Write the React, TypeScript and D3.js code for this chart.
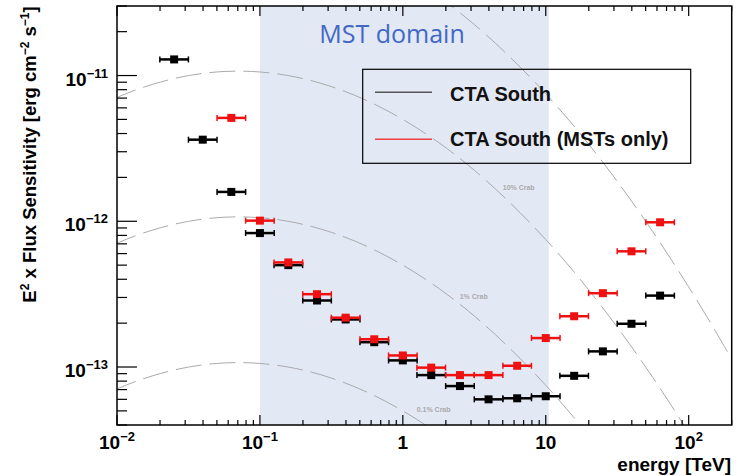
import React from "react";
import * as d3 from "d3";

// bin centres (5 bins per decade), TeV
const allEnergy = [
  0.0251, 0.0398, 0.0631, 0.1, 0.158, 0.251, 0.398, 0.631, 1, 1.58, 2.51, 3.98,
  6.31, 10, 15.8, 25.1, 39.8, 63.1,
];
// E^2 x flux sensitivity, erg cm^-2 s^-1
const southFlux = [
  1.29e-11, 3.63e-12, 1.59e-12, 8.3e-13, 5.0e-13, 2.86e-13, 2.12e-13, 1.48e-13,
  1.11e-13, 8.8e-14, 7.4e-14, 6.0e-14, 6.1e-14, 6.3e-14, 8.7e-14, 1.28e-13,
  1.98e-13, 3.09e-13,
];
const mstEnergy = allEnergy.slice(2);
const mstFlux = [
  5.12e-12, 1.01e-12, 5.22e-13, 3.16e-13, 2.18e-13, 1.55e-13, 1.2e-13, 9.9e-14,
  8.8e-14, 8.8e-14, 1.02e-13, 1.58e-13, 2.23e-13, 3.21e-13, 6.22e-13, 9.84e-13,
];

// 1% Crab reference curve
const crabEnergy = [
  0.00562, 0.01, 0.0178, 0.0316, 0.0562, 0.1, 0.178, 0.316, 0.562, 1, 1.78,
  3.16, 5.62, 10, 17.8, 31.6, 56.2, 100, 178, 316,
];
const crab1pct = [
  5.34e-13, 7.07e-13, 8.71e-13, 9.99e-13, 1.066e-12, 1.058e-12, 9.77e-13,
  8.4e-13, 6.72e-13, 5.0e-13, 3.47e-13, 2.24e-13, 1.34e-13, 7.49e-14, 3.89e-14,
  1.88e-14, 8.46e-15, 3.54e-15, 1.38e-15, 5.0e-16,
];
const crabScale = [100, 10, 1, 0.1];
const crabLabels = ["10% Crab", "1% Crab", "0.1% Crab"];
const crabLabelEnergy = [5.0, 2.5, 1.25];
const crabLabelFlux = [1.64e-12, 2.92e-13, 4.9e-14];

const xTicks = [0.01, 0.1, 1, 10, 100];
const xTickLabels = [["10", "\u22122"], ["10", "\u22121"], ["1", ""], ["10", ""], ["10", "2"]];
const yTicks = [1e-11, 1e-12, 1e-13];
const yTickLabels = ["\u221211", "\u221212", "\u221213"];
const mstDomain = [0.1, 10.5];

const W = 737;
const H = 476;
const m = { left: 117, right: 5.3, top: 6, bottom: 51 };
const font = "'Liberation Sans', Arial, Helvetica, sans-serif";
const red = "#ee1111";

export default function App() {
  const x = d3.scaleLog().domain([0.01, 200]).range([m.left, W - m.right]);
  const y = d3.scaleLog().domain([4e-14, 3e-11]).range([H - m.bottom, m.top]);
  const [x0, x1] = x.range();
  const [y0, y1] = y.range();

  const minorX: number[] = [];
  for (let d = 0.01; d < 200; d *= 10)
    for (let k = 1; k < 10; k++) if (d * k <= 200) minorX.push(d * k);
  const minorY: number[] = [];
  for (let d = 1e-14; d < 3e-11; d *= 10)
    for (let k = 1; k < 10; k++) {
      const v = d * k;
      if (v >= 4e-14 && v <= 3.01e-11) minorY.push(v);
    }
  const isMajor = (v: number) => Math.abs(Math.log10(v) - Math.round(Math.log10(v))) < 1e-6;

  const line = d3
    .line<[number, number]>()
    .x((d) => x(d[0]))
    .y((d) => y(d[1]))
    .curve(d3.curveNatural);

  const points = (energy: number[], flux: number[], color: string) =>
    energy.map((e, i) => {
      const lo = x(e / Math.pow(10, 0.1));
      const hi = x(e * Math.pow(10, 0.1));
      const cy = y(flux[i]);
      return (
        <g key={i}>
          <line x1={lo} x2={hi} y1={cy} y2={cy} stroke={color} strokeWidth={2.5} />
          <line x1={lo} x2={lo} y1={cy - 3} y2={cy + 3} stroke={color} strokeWidth={1.5} />
          <line x1={hi} x2={hi} y1={cy - 3} y2={cy + 3} stroke={color} strokeWidth={1.5} />
          <rect x={x(e) - 4} y={cy - 4} width={8} height={8} fill={color} />
        </g>
      );
    });

  return (
    <svg
      width={W}
      height={H}
      style={{ position: "absolute", left: 0, top: 0, background: "#fff" }}
      fontFamily={font}
    >
      <defs>
        <clipPath id="plot">
          <rect x={x0} y={y1} width={x1 - x0} height={y0 - y1} />
        </clipPath>
      </defs>

      <rect
        x={x(mstDomain[0])}
        y={y1}
        width={x(mstDomain[1]) - x(mstDomain[0])}
        height={y0 - y1}
        fill="#e3e8f5"
      />
      <text x={392} y={42.5} textAnchor="middle" fontFamily="'Open Sans', sans-serif" fontSize={25} fill="#4169c4">
        MST domain
      </text>

      <g clipPath="url(#plot)">
        {crabScale.map((s, i) => (
          <path
            key={i}
            d={line(crabEnergy.map((e, j) => [e, crab1pct[j] * s] as [number, number])) || ""}
            fill="none"
            stroke="#aaa"
            strokeWidth={1}
            strokeDasharray="26,8"
          />
        ))}
      </g>
      {crabLabels.map((t, i) => (
        <text
          key={t}
          x={x(crabLabelEnergy[i])}
          y={y(crabLabelFlux[i])}
          fontSize={7}
          fontWeight="bold"
          fill="#aaa"
        >
          {t}
        </text>
      ))}

      {/* legend */}
      <rect x={362.7} y={69.3} width={328} height={94} fill="none" stroke="#000" strokeWidth={1.2} />
      <line x1={375} x2={432} y1={92.3} y2={92.3} stroke="#555" strokeWidth={1.5} />
      <line x1={375} x2={432} y1={139.3} y2={139.3} stroke="#e44" strokeWidth={1.5} />
      <text x={450} y={100.5} fontSize={20} fontWeight="bold" fill="#111">
        CTA South
      </text>
      <text x={450} y={146} fontSize={20} fontWeight="bold" fill="#111">
        CTA South (MSTs only)
      </text>

      {points(allEnergy, southFlux, "#000")}
      {points(mstEnergy, mstFlux, red)}

      {/* frame */}
      <rect x={x0} y={y1} width={x1 - x0} height={y0 - y1} fill="none" stroke="#000" strokeWidth={1.5} />

      {minorX.map((v, i) => {
        const len = isMajor(v) ? 10 : 5;
        return (
          <g key={i} stroke="#000" strokeWidth={1.2}>
            <line x1={x(v)} x2={x(v)} y1={y0} y2={y0 - len} />
            <line x1={x(v)} x2={x(v)} y1={y1} y2={y1 + len} />
          </g>
        );
      })}
      {minorY.map((v, i) => (
        <line
          key={i}
          x1={x0}
          x2={x0 + (isMajor(v) ? 20 : 10)}
          y1={y(v)}
          y2={y(v)}
          stroke="#000"
          strokeWidth={1.2}
        />
      ))}

      {xTicks.map((v, i) => (
        <text key={v} x={x(v)} y={449} textAnchor="middle" fontSize={19} fontWeight="bold">
          {xTickLabels[i][0]}
          {xTickLabels[i][1] && (
            <tspan fontSize={13} dy={-8}>
              {xTickLabels[i][1]}
            </tspan>
          )}
        </text>
      ))}
      {yTicks.map((v, i) => (
        <text key={v} x={108} y={y(v) + 10} textAnchor="end" fontSize={19} fontWeight="bold">
          10
          <tspan fontSize={13} dy={-8}>
            {yTickLabels[i]}
          </tspan>
        </text>
      ))}

      <text x={731} y={470.5} textAnchor="end" fontSize={19} fontWeight="bold">
        energy [TeV]
      </text>
      <text
        transform="translate(36,154.5) rotate(-90)"
        textAnchor="middle"
        fontSize={18.5}
        fontWeight="bold"
      >
        E
        <tspan fontSize={12} dy={-7}>2</tspan>
        <tspan dy={7}> x Flux Sensitivity [erg cm</tspan>
        <tspan fontSize={12} dy={-7}>{"\u22122"}</tspan>
        <tspan dy={7}> s</tspan>
        <tspan fontSize={12} dy={-7}>{"\u22121"}</tspan>
        <tspan dy={7}>]</tspan>
      </text>
    </svg>
  );
}
